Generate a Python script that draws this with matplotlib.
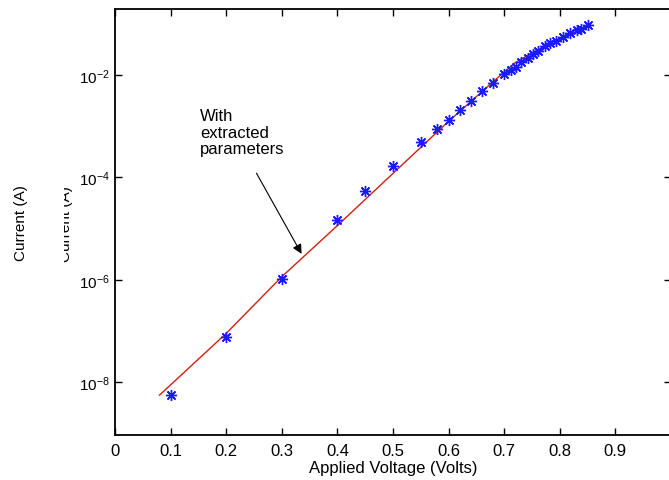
import matplotlib.pyplot as plt
import matplotlib.patches as patches
import numpy as np

plt.rcParams['font.family'] = ['Liberation Sans', 'DejaVu Sans']
plt.rcParams['mathtext.fontset'] = 'custom'
plt.rcParams['mathtext.rm'] = 'Liberation Sans'
plt.rcParams['mathtext.it'] = 'Liberation Sans'

# measured points
v_meas = [0.1, 0.2, 0.3, 0.4, 0.45, 0.5, 0.55, 0.58, 0.6, 0.62, 0.64, 0.66, 0.68,
          0.70, 0.712, 0.721, 0.73, 0.742, 0.752, 0.761, 0.773, 0.782, 0.793,
          0.806, 0.818, 0.831, 0.839, 0.85]
i_meas = [5.6e-9, 7.6e-8, 1.02e-6, 1.5e-5, 5.4e-5, 1.7e-4, 4.9e-4, 9.0e-4, 1.33e-3,
          2.1e-3, 3.1e-3, 4.8e-3, 7.0e-3,
          1.03e-2, 1.23e-2, 1.45e-2, 1.8e-2, 2.2e-2, 2.6e-2, 3.0e-2, 3.7e-2, 4.2e-2,
          4.7e-2, 5.6e-2, 6.6e-2, 7.6e-2, 8.1e-2, 9.5e-2]

# model curve with extracted parameters
v_fit = [0.08, 0.2, 0.3, 0.4, 0.5, 0.6, 0.65, 0.7, 0.72, 0.75, 0.8, 0.855]
i_fit = [5.6e-9, 9.0e-8, 1.15e-6, 1.15e-5, 1.2e-4, 1.25e-3, 3.8e-3, 1.15e-2,
         1.75e-2, 2.7e-2, 5.2e-2, 9.1e-2]

x_ticks = [0, 0.1, 0.2, 0.3, 0.4, 0.5, 0.6, 0.7, 0.8, 0.9]
y_ticks = [1e-8, 1e-6, 1e-4, 1e-2]

fig = plt.figure(figsize=(6.69, 4.81), dpi=100)
ax = fig.add_axes([115/669, 1 - 436/481, 556/669, 426/481])

ax.semilogy(v_fit, i_fit, color='#d02010', lw=1.0)
ax.semilogy(v_meas, i_meas, linestyle='none', marker=(8, 2, 0), markersize=8,
            color='#1a1aff', markeredgewidth=1.0)

ax.set_xlim(0, 1)
ax.set_ylim(10**-9.03, 10**-0.71)
ax.set_xticks(x_ticks)
ax.set_xticklabels(['0'] + ['%.1f' % t for t in x_ticks[1:]])
ax.set_yticks(y_ticks)
ax.set_yticklabels([r'$\mathregular{10^{%d}}$' % int(np.log10(t)) for t in y_ticks])
ax.yaxis.set_minor_locator(plt.NullLocator())
ax.tick_params(direction='in', length=5, width=1, top=True, right=True)
ax.tick_params(axis='x', labelsize=12, pad=6)
ax.tick_params(axis='y', labelsize=11, pad=4)
for s in ax.spines.values():
    s.set_linewidth(1.3)

ax.set_xlabel('Applied Voltage (Volts)', fontsize=12, labelpad=1)
ax.set_ylabel('Current (A)', fontsize=11)
ax.yaxis.set_label_coords(-0.157, 0.5)

# second label copy, mostly hidden behind a white strip
fig.text(70/669, 1 - 224/481, 'Current (A)', rotation=90, fontsize=11,
         ha='center', va='baseline', rotation_mode='anchor', zorder=2)
strip = patches.Rectangle((35/669, 1 - 290/481), 29/669, 130/481,
                          transform=fig.transFigure, facecolor='white',
                          edgecolor='none', zorder=10)
fig.add_artist(strip)

ax.text(0.153, 10**-2.64, 'With\nextracted\nparameters', fontsize=12,
        ha='left', va='top', linespacing=1.15)
ax.annotate('', xy=(0.338, 10**-5.54), xytext=(0.252, 10**-3.87),
            arrowprops=dict(arrowstyle='-|>', color='k', lw=0.8, mutation_scale=14))

fig.savefig('out.png', dpi=100)
